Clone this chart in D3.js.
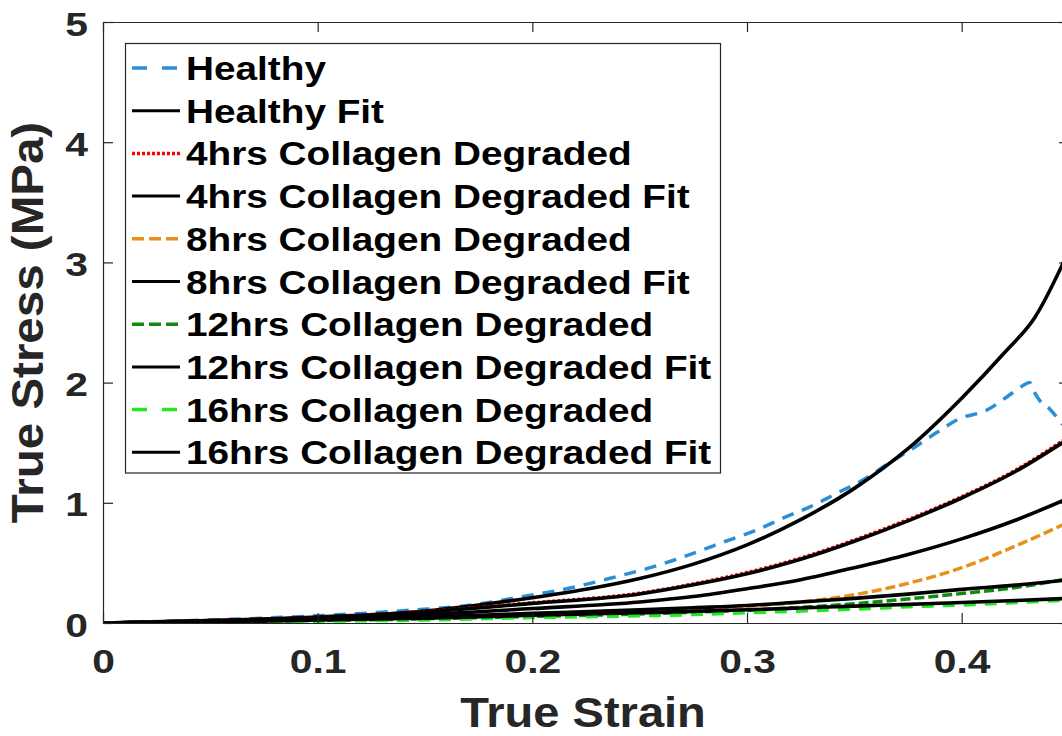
<!DOCTYPE html>
<html>
<head>
<meta charset="utf-8">
<script src="https://cdn.jsdelivr.net/npm/d3@7"></script>
<style>
  html, body { margin: 0; padding: 0; background: #fff; }
  svg { display: block; }
</style>
</head>
<body>
<svg id="chart" width="1062" height="736"></svg>
<script>
// ---- data ----
const xTickValues = [0, 0.1, 0.2, 0.3, 0.4];
const xTickLabels = ["0", "0.1", "0.2", "0.3", "0.4"];
const yTickValues = [0, 1, 2, 3, 4, 5];
const yTickLabels = ["0", "1", "2", "3", "4", "5"];

const healthyStrain = [0, 0.05, 0.1, 0.116, 0.13, 0.144, 0.158, 0.172, 0.186, 0.2, 0.213, 0.227, 0.239, 0.253, 0.2655, 0.278, 0.29, 0.3045, 0.3168, 0.331, 0.343, 0.356, 0.366, 0.377, 0.388, 0.399, 0.4116, 0.421, 0.428, 0.4317, 0.433, 0.436, 0.441, 0.447];
const healthyStress = [0, 0.025, 0.06, 0.075, 0.09, 0.108, 0.125, 0.15, 0.19, 0.233, 0.274, 0.33, 0.385, 0.45, 0.52, 0.6, 0.68, 0.773, 0.873, 0.98, 1.09, 1.21, 1.33, 1.45, 1.58, 1.70, 1.77, 1.88, 1.97, 2.00, 1.95, 1.86, 1.78, 1.65];

const healthyFitStrain = [0, 0.05, 0.1, 0.15, 0.175, 0.2, 0.225, 0.25, 0.275, 0.3, 0.325, 0.35, 0.375, 0.4, 0.42, 0.434, 0.45];
const healthyFitStress = [0, 0.02, 0.05, 0.10, 0.15, 0.21, 0.28, 0.37, 0.49, 0.65, 0.86, 1.12, 1.45, 1.87, 2.25, 2.54, 3.1];

const gridStrain = [0, 0.05, 0.1, 0.15, 0.2, 0.25, 0.275, 0.3, 0.325, 0.35, 0.375, 0.4, 0.425, 0.45];
const deg4Stress    = [0, 0.02, 0.045, 0.095, 0.168, 0.248, 0.325, 0.42, 0.54, 0.69, 0.86, 1.05, 1.27, 1.55];
const deg4FitStress = [0, 0.02, 0.045, 0.092, 0.163, 0.242, 0.318, 0.41, 0.53, 0.68, 0.85, 1.04, 1.26, 1.535];
const deg8Stress    = [0, 0.01, 0.025, 0.04, 0.065, 0.095, 0.115, 0.14, 0.175, 0.235, 0.33, 0.46, 0.64, 0.84];
const deg8FitStress = [0, 0.015, 0.04, 0.07, 0.12, 0.175, 0.22, 0.285, 0.36, 0.46, 0.57, 0.70, 0.855, 1.04];
const deg12Stress    = [0, 0.008, 0.02, 0.035, 0.055, 0.075, 0.09, 0.105, 0.13, 0.16, 0.2, 0.245, 0.295, 0.37];
const deg12FitStress = [0, 0.012, 0.03, 0.05, 0.08, 0.11, 0.127, 0.145, 0.175, 0.205, 0.24, 0.28, 0.315, 0.36];
const deg16Stress    = [0, 0.005, 0.015, 0.025, 0.045, 0.06, 0.07, 0.085, 0.1, 0.115, 0.135, 0.15, 0.17, 0.19];
const deg16FitStress = [0, 0.01, 0.025, 0.04, 0.065, 0.085, 0.097, 0.11, 0.125, 0.14, 0.155, 0.17, 0.187, 0.205];

const seriesNames = ["Healthy", "Healthy Fit", "4hrs Collagen Degraded", "4hrs Collagen Degraded Fit",
  "8hrs Collagen Degraded", "8hrs Collagen Degraded Fit", "12hrs Collagen Degraded", "12hrs Collagen Degraded Fit",
  "16hrs Collagen Degraded", "16hrs Collagen Degraded Fit"];
const seriesColors = ["#2a8fd6", "#000000", "#ff0000", "#000000", "#e8901a", "#000000", "#108a10", "#000000", "#22e822", "#000000"];
const seriesDash = ["12,9", null, "3,2", null, "10,4", null, "10,4", null, "12,9", null];

// build series table
const series = [
  [healthyStrain, healthyStress],
  [healthyFitStrain, healthyFitStress],
  [gridStrain, deg4Stress],
  [gridStrain, deg4FitStress],
  [gridStrain, deg8Stress],
  [gridStrain, deg8FitStress],
  [gridStrain, deg12Stress],
  [gridStrain, deg12FitStress],
  [gridStrain, deg16Stress],
  [gridStrain, deg16FitStress]
].map((p, i) => ({
  name: seriesNames[i], color: seriesColors[i], dash: seriesDash[i],
  values: p[0].map((xv, j) => ({ x: xv, y: p[1][j] }))
}));

// ---- layout ----
const svg = d3.select("#chart");
const pLeft = 103, pRight = 1069, pTop = 22, pBottom = 623;
const x = d3.scaleLinear().domain([0, 0.45]).range([pLeft, pRight]);
const y = d3.scaleLinear().domain([0, 5]).range([pBottom, pTop]);
const axisColor = "#262626";
const fontFam = "'Liberation Sans', Arial, Helvetica, sans-serif";

svg.append("rect").attr("width", 1062).attr("height", 736).attr("fill", "#fff");

svg.append("defs").append("clipPath").attr("id", "plotclip")
  .append("rect").attr("x", pLeft).attr("y", pTop).attr("width", pRight - pLeft).attr("height", pBottom - pTop);

// curves
const line = d3.line().x(d => x(d.x)).y(d => y(d.y)).curve(d3.curveMonotoneX);
const plot = svg.append("g").attr("clip-path", "url(#plotclip)");
series.forEach(s => {
  plot.append("path")
    .attr("d", line(s.values))
    .attr("fill", "none")
    .attr("stroke", s.color)
    .attr("stroke-width", s.dash ? 3.5 : 3.6)
    .attr("stroke-dasharray", s.dash)
    .attr("stroke-linejoin", "round");
});

// axes
function styleAxis(g) {
  g.select(".domain").attr("stroke", axisColor).attr("stroke-width", 1.2);
  g.selectAll(".tick line").attr("stroke", axisColor).attr("stroke-width", 1.2);
}
const gx = svg.append("g").attr("transform", `translate(0,${pBottom})`)
  .call(d3.axisBottom(x).tickValues(xTickValues).tickFormat((d, i) => xTickLabels[i]).tickSizeInner(-10).tickSizeOuter(0));
styleAxis(gx);
gx.selectAll(".tick text")
  .attr("y", 50).attr("dy", null)
  .attr("transform", "scale(1.2,1)")
  .attr("fill", axisColor)
  .style("font-family", fontFam).style("font-weight", "bold").style("font-size", "34px");

const gy = svg.append("g").attr("transform", `translate(${pLeft},0)`)
  .call(d3.axisLeft(y).tickValues(yTickValues).tickFormat((d, i) => yTickLabels[i]).tickSizeInner(-10).tickSizeOuter(0));
styleAxis(gy);
gy.selectAll(".tick text")
  .attr("x", -15 / 1.2).attr("dy", null).attr("y", 13)
  .attr("transform", "scale(1.2,1)")
  .attr("fill", axisColor)
  .style("font-family", fontFam).style("font-weight", "bold").style("font-size", "34px");

const gt = svg.append("g").attr("transform", `translate(0,${pTop})`)
  .call(d3.axisTop(x).tickValues(xTickValues).tickFormat("").tickSizeInner(-10).tickSizeOuter(0));
styleAxis(gt);
const gr = svg.append("g").attr("transform", `translate(${pRight},0)`)
  .call(d3.axisRight(y).tickValues(yTickValues).tickFormat("").tickSizeInner(-10).tickSizeOuter(0));
styleAxis(gr);

// axis titles
svg.append("text")
  .attr("transform", `translate(${(pLeft + pRight) / 2 - 3},727) scale(1.12,1)`)
  .attr("text-anchor", "middle")
  .attr("fill", axisColor)
  .style("font-family", fontFam).style("font-weight", "bold").style("font-size", "42px")
  .text("True Strain");
svg.append("text")
  .attr("transform", `translate(43,${(pTop + pBottom) / 2}) rotate(-90) scale(1.08,1)`)
  .attr("text-anchor", "middle")
  .attr("fill", axisColor)
  .style("font-family", fontFam).style("font-weight", "bold").style("font-size", "44px")
  .text("True Stress (MPa)");

// legend
const lg = svg.append("g");
lg.append("rect").attr("x", 125.5).attr("y", 43.5).attr("width", 595).attr("height", 429.5)
  .attr("fill", "#fff").attr("stroke", axisColor).attr("stroke-width", 1.2);
const rowY = i => 68 + i * 42.7;
series.forEach((s, i) => {
  lg.append("line")
    .attr("x1", 132).attr("x2", 180).attr("y1", rowY(i)).attr("y2", rowY(i))
    .attr("stroke", s.color).attr("stroke-width", s.dash ? 3.5 : 3)
    .attr("stroke-dasharray", s.dash ? (s.dash === "12,9" ? "15,15" : (s.dash === "3,2" ? "3,2" : "12,5")) : null);
  lg.append("text")
    .attr("transform", `translate(186,${rowY(i) + 12}) scale(1.14,1)`)
    .attr("fill", "#000")
    .style("font-family", fontFam).style("font-weight", "bold").style("font-size", "34px")
    .text(s.name);
});
</script>
</body>
</html>
